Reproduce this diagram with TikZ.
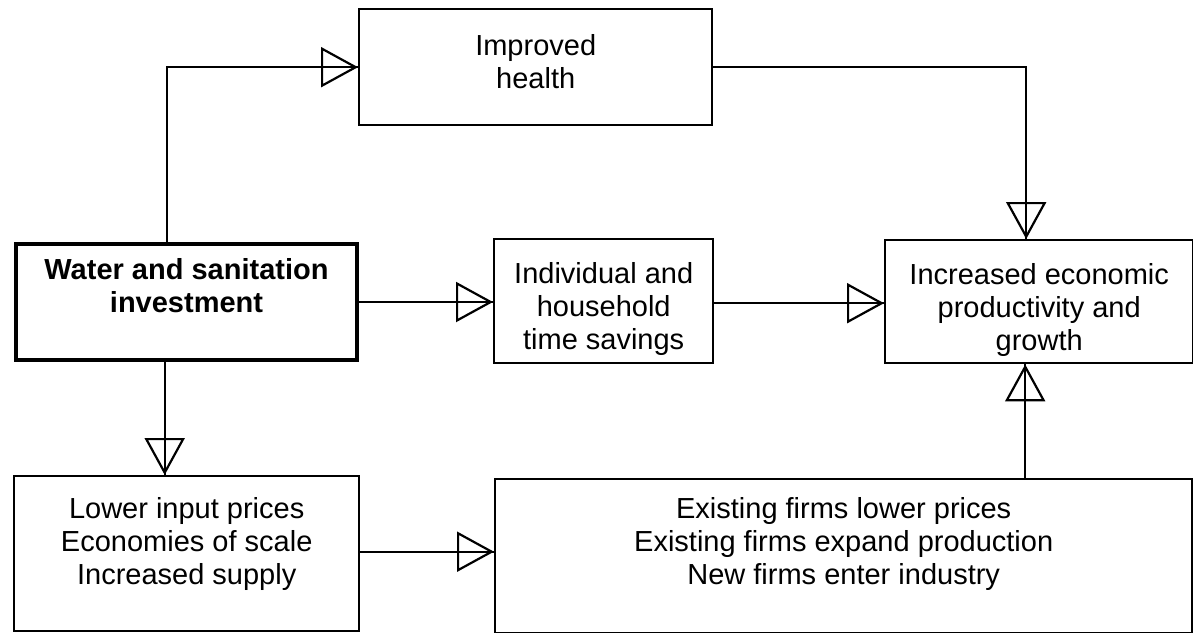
\documentclass[tikz,border=0pt]{standalone}
\usepackage{fontspec}
\setmainfont{Liberation Sans}
\usetikzlibrary{arrows.meta,calc}
\begin{document}
\begin{tikzpicture}[x=1pt,y=-1pt,
  box/.style={draw, line width=2.4pt, anchor=north west, inner sep=0pt},
  thickbox/.style={box, line width=4pt},
  txt/.style={inner sep=0pt, align=center, font=\fontsize{29}{33}\selectfont},
  conn/.style={line width=2pt, -{Triangle[open, length=37pt, width=40pt, line width=2.2pt]},
    postaction={draw, line width=2pt, -}}
]
\useasboundingbox (0,0) rectangle (1193,632);

\node[box, minimum width=353pt, minimum height=116pt] (health) at (358,8) {};
\node[thickbox, minimum width=341pt, minimum height=116pt] (water) at (14,242) {};
\node[box, minimum width=219pt, minimum height=124pt] (indiv) at (493,238) {};
\node[box, minimum width=308pt, minimum height=123pt] (incr) at (884,239) {};
\node[box, minimum width=345pt, minimum height=155pt] (lower) at (13,475) {};
\node[box, minimum width=697pt, minimum height=154pt] (exist) at (494,478) {};

\node[txt] (healthT) at ([yshift=6pt]health.center) {Improved\\health};
\node[txt] (waterT) at ([yshift=16pt]water.center) {\textbf{Water and sanitation}\\\textbf{investment}};
\node[txt] (indivT) at ([yshift=-8pt]indiv.center) {Individual and\\household\\time savings};
\node[txt] (incrT) at ([yshift=-8pt]incr.center) {Increased economic\\productivity and\\growth};
\node[txt] (lowerT) at ([yshift=9.5pt]lower.center) {Lower input prices\\Economies of scale\\Increased supply};
\node[txt] (existT) at ([yshift=12pt]exist.center) {Existing firms lower prices\\Existing firms expand production\\New firms enter industry};

\coordinate (hup) at ([xshift=-19.5pt]water.north);
\coordinate (hdn) at ([xshift=-13pt]incr.north);
\coordinate (ldn) at ([xshift=-22pt]lower.north);
\coordinate (eup) at ([xshift=-14pt]incr.south);

\draw[conn] (hup) |- (health.west);
\draw[conn] (health.east) -| (hdn);
\draw[conn] (water.east) -- (water.east -| indiv.west);
\draw[conn] ([yshift=-2pt]indiv.east) -- ([yshift=-2pt]indiv.east -| incr.west);
\draw[conn] (water.south -| ldn) -- (ldn);
\draw[conn] ([yshift=2pt]lower.east) -- ([yshift=2pt]lower.east -| exist.west);
\draw[conn] (exist.north -| eup) -- (eup);
\end{tikzpicture}
\end{document}
